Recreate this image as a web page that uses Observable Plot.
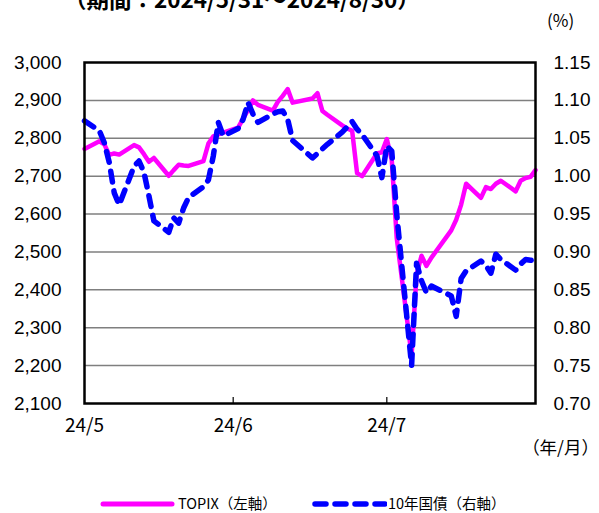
<!DOCTYPE html>
<html><head><meta charset="utf-8">
<script src="https://cdn.jsdelivr.net/npm/d3@7"></script>
<script src="https://cdn.jsdelivr.net/npm/@observablehq/plot@0.6"></script>
<style>
body{margin:0;background:#fff;}
#wrap{position:relative;width:599px;height:513px;overflow:hidden;font-family:"Liberation Sans",Arial,sans-serif;color:#000;background:#fff;}
#chart{position:absolute;left:0;top:0;z-index:0;}
#title{position:absolute;left:64px;top:-13px;z-index:2;font:bold 22.5px/22px "Noto Sans CJK JP",sans-serif;white-space:nowrap;}
#pct{position:absolute;left:547px;top:10px;z-index:2;font:17px/20px "Noto Sans CJK JP",sans-serif;}
#unit{position:absolute;right:0px;top:436px;z-index:2;font:17.5px/22px "Noto Sans CJK JP",sans-serif;white-space:nowrap;}
#legend{position:absolute;left:0;top:493px;width:599px;height:20px;z-index:2;font:14.5px/20px "Noto Sans CJK JP",sans-serif;}
#legend span{position:absolute;top:0;white-space:nowrap;}
#legend svg{position:absolute;top:0;}
</style></head><body>
<div id="wrap">
 <div id="chart"></div>
 <div id="title">（期間：2024/5/31～2024/8/30）</div>
 <div id="pct">(%)</div>
 <div id="unit">（年/月）</div>
 <div id="legend">
  <svg style="left:100px" width="76" height="20"><line x1="3" y1="11" x2="72" y2="11" stroke="#ff00ff" stroke-width="5" stroke-linecap="round"/></svg>
  <span style="left:178px">TOPIX（左軸）</span>
  <svg style="left:311px" width="76" height="20"><line x1="4" y1="11" x2="74" y2="11" stroke="#0000ff" stroke-width="5.5" stroke-linecap="round" stroke-dasharray="11,9"/></svg>
  <span style="left:388px">10年国債（右軸）</span>
 </div>
</div>
<script>
const dates = ["2024-05-31","2024-06-03","2024-06-04","2024-06-05","2024-06-06","2024-06-07","2024-06-10","2024-06-11","2024-06-12","2024-06-13","2024-06-14","2024-06-17","2024-06-18","2024-06-19","2024-06-20","2024-06-21","2024-06-24","2024-06-25","2024-06-26","2024-06-27","2024-06-28","2024-07-01","2024-07-02","2024-07-03","2024-07-04","2024-07-05","2024-07-08","2024-07-09","2024-07-10","2024-07-11","2024-07-12","2024-07-16","2024-07-17","2024-07-18","2024-07-19","2024-07-22","2024-07-23","2024-07-24","2024-07-25","2024-07-26","2024-07-29","2024-07-30","2024-07-31","2024-08-01","2024-08-02","2024-08-05","2024-08-06","2024-08-07","2024-08-08","2024-08-09","2024-08-13","2024-08-14","2024-08-15","2024-08-16","2024-08-19","2024-08-20","2024-08-21","2024-08-22","2024-08-23","2024-08-26","2024-08-27","2024-08-28","2024-08-29","2024-08-30"];
const topix = [2772,
 2792,2784,2756,2760,2757,2782,2776,2758,2738,2748,2701,2716,2730,2728,2727,2740,2786,2805,2810,2815,
 2828,2852,2875,2900,2888,2873,2896,2912,2930,2894,2905,2919,2872,2862,2834,2826,2820,2708,2700,2760,2763,2798,
 2742,2537,2227,2440,2490,2463,2485,2557,2585,2625,2680,2643,2671,2666,2680,2688,2660,2688,2695,2698,2716];
const jgb10y = [1.073,
 1.060,1.044,1.018,0.978,0.962,1.013,1.020,1.005,0.974,0.941,0.926,0.945,0.938,0.958,0.972,0.986,0.995,1.027,1.071,1.053,
 1.063,1.075,1.097,1.082,1.071,1.082,1.085,1.086,1.075,1.047,1.024,1.030,1.036,1.042,1.058,1.065,1.072,1.062,1.055,1.027,0.998,1.040,
 1.033,0.950,0.750,0.885,0.862,0.846,0.855,0.842,0.815,0.865,0.875,0.888,0.882,0.872,0.897,0.890,0.876,0.884,0.890,0.889,0.890];
const leftTicks = [2100,2200,2300,2400,2500,2600,2700,2800,2900,3000];
const gridTicks = [2200,2300,2400,2500,2600,2700,2800,2900];
const rightMin = 0.70, rightMax = 1.15;
const leftMin = 2100, leftMax = 3000;
const xTickDates = ["2024-05-31","2024-06-30","2024-07-31"];
const xTickLabels = ["24/5","24/6","24/7"];

const k = (leftMax - leftMin) / (rightMax - rightMin);
const toLeft = v => leftMin + (v - rightMin) * k;
const toRight = d => rightMin + (d - leftMin) / k;
const parse = s => new Date(s + "T00:00:00Z");

const rowsT = dates.map((d, i) => ({date: parse(d), v: topix[i]}));
const rowsJ = dates.map((d, i) => ({date: parse(d), v: toLeft(jgb10y[i])}));
const tickD = xTickDates.map(parse);

const chart = Plot.plot({
  width: 599, height: 440,
  marginLeft: 84, marginRight: 64, marginTop: 62, marginBottom: 37,
  style: {fontFamily: "Liberation Sans, Arial, sans-serif", fontSize: "19px", background: "white", color: "black"},
  x: {type: "utc", domain: [parse(dates[0]), parse(dates[dates.length - 1])], axis: null, label: null},
  y: {domain: [leftMin, leftMax], axis: null, label: null},
  marks: [
    Plot.ruleY(gridTicks, {stroke: "#7f7f7f", strokeWidth: 1.5}),
    Plot.ruleX(tickD.slice(1), {x: d => d, y1: leftMin, y2: leftMin + 16, stroke: "black", strokeWidth: 1.2}),
    Plot.line(rowsT, {x: "date", y: "v", stroke: "#ff00ff", strokeWidth: 4.5, strokeLinejoin: "round", strokeLinecap: "round"}),
    Plot.line(rowsJ, {x: "date", y: "v", stroke: "#0000ff", strokeWidth: 5.5, strokeDasharray: "11,9", strokeLinecap: "round", strokeLinejoin: "round"}),
    Plot.frame({stroke: "black", strokeWidth: 2.5}),
    Plot.axisY(leftTicks, {anchor: "left", label: null, tickSize: 0, tickPadding: 23, tickFormat: d3.format(","), fontSize: 19}),
    Plot.axisY(leftTicks, {anchor: "right", label: null, tickSize: 0, tickPadding: 18, tickFormat: d => toRight(d).toFixed(2), fontSize: 19}),
    Plot.axisX(tickD, {anchor: "bottom", label: null, tickSize: 0, tickPadding: 15, fontSize: 19, fontFamily: "Noto Sans CJK JP, sans-serif",
      tickFormat: d => xTickLabels[tickD.findIndex(t => +t === +d)]})
  ]
});
document.getElementById("chart").appendChild(chart);
</script>
</body></html>
